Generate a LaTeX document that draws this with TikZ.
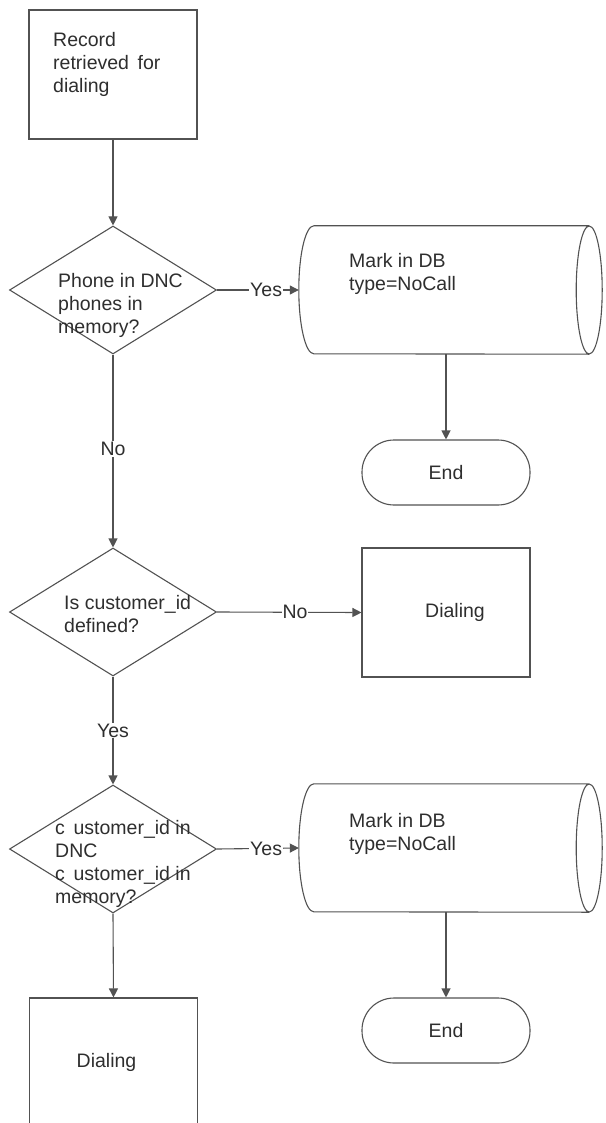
\documentclass[tikz,border=0pt]{standalone}
\usepackage{fontspec}
\setmainfont{Liberation Sans}
\usetikzlibrary{shapes.geometric,arrows.meta}
\tikzset{
  ln/.style={draw=black!68, line width=1.1pt},
  txt/.style={font=\fontsize{19.5}{23}\selectfont, text=black!82, inner sep=0pt, align=left},
  boxn/.style={ln, rectangle, minimum width=168pt, minimum height=129pt, inner sep=0pt, font=\fontsize{19.5}{23}\selectfont, text=black!82},
  decision/.style={ln, diamond, minimum width=207pt, minimum height=128pt, inner sep=0pt},
  storebox/.style={rectangle, minimum width=304pt, minimum height=128pt, inner sep=0pt},
  term/.style={ln, rectangle, rounded corners=32pt, minimum width=168pt, minimum height=65pt, inner sep=0pt, font=\fontsize{19.5}{23}\selectfont, text=black!82},
  arr/.style={ln, -{Triangle[length=9pt,width=9pt]}},
  lab/.style={font=\fontsize{19.5}{23}\selectfont, text=black!82, fill=white, inner sep=1pt}
}
\newcommand{\cylpath}[1]{%
  \draw[ln] ([xshift=15pt]#1.north west) -- ([xshift=-14pt]#1.north east)
    ([xshift=-14pt]#1.east) ellipse [x radius=13pt, y radius=64pt]
    ([xshift=15pt]#1.north west) arc [start angle=90, end angle=270, x radius=15pt, y radius=64pt]
    -- ([xshift=-14pt]#1.south east);}
\begin{document}
\begin{tikzpicture}[x=1pt,y=-1pt]
\useasboundingbox (0,0) rectangle (605,1123);
\clip (0,0) rectangle (605,1123);
% nodes
\node[boxn] (start) at (113,74.5) {};
\node[txt, anchor=north west] (startT) at (53,32) {Record\\retrieved\, for\\dialing};

\node[decision] (d1) at (113,290) {};
\node[txt, anchor=north west] (d1T) at (58,273) {Phone in DNC\\phones in\\memory?};

\node[storebox] (c1) at (451,290) {};
\cylpath{c1}
\node[txt, anchor=north west] (c1T) at (349,253) {Mark in DB\\type=NoCall};

\node[term] (e1) at (446,472.5) {End};

\node[decision] (d2) at (113,612) {};
\node[txt, anchor=north west] (d2T) at (64,595) {Is customer\_id\\defined?};

\node[boxn] (dial1) at (446,612.5) {\hspace*{18pt}Dialing};

\node[decision] (d3) at (113,849) {};
\node[txt, anchor=north west] (d3T) at (55,820) {c\, ustomer\_id in\\DNC\\c\, ustomer\_id in\\memory?};

\node[storebox] (c2) at (451,848) {};
\cylpath{c2}
\node[txt, anchor=north west] (c2T) at (349,813) {Mark in DB\\type=NoCall};

\node[term] (e2) at (446,1030.5) {End};

\node[boxn] (dial2) at (113.5,1062.5) {\hspace*{-14pt}Dialing};

% connectors
\draw[arr] (start) -- (d1);
\draw[arr] (d1.east) -- node[lab, pos=0.6] {Yes} (c1.west);
\draw[arr] (e1.north |- c1.south) -- (e1.north);
\draw[arr] (d1.south) -- node[lab, pos=0.49] {No} (d2.north);
\draw[arr] (d2.east) -- node[lab, pos=0.54] {No} (dial1.west);
\draw[arr] (d2.south) -- node[lab, pos=0.5] {Yes} (d3.north);
\draw[arr] (d3.east) -- node[lab, pos=0.6] {Yes} (c2.west);
\draw[arr] (e2.north |- c2.south) -- (e2.north);
\draw[arr] (d3.south) -- (dial2.north);
\end{tikzpicture}
\end{document}
